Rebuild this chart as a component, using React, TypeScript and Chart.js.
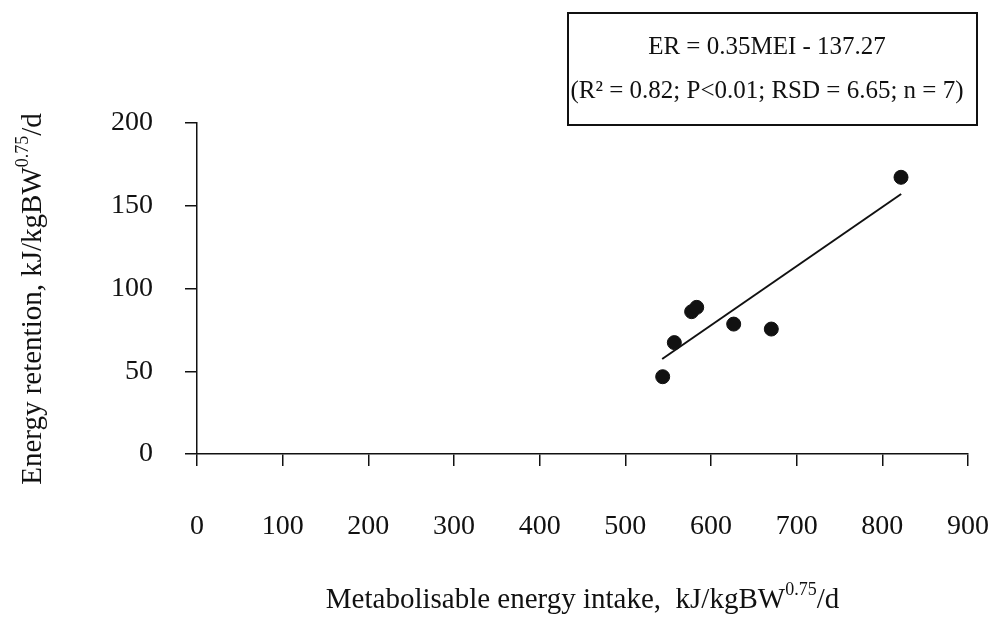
import React, { useEffect, useRef } from "react";
import { Chart, registerables } from "chart.js";

Chart.register(...registerables);

// Data
const meiValues = [543.6, 557.2, 577.4, 583.3, 626.5, 670.4, 821.8];
const erValues = [46.7, 67.3, 86.0, 88.6, 78.5, 75.5, 167.2];
const fitX = [543, 822];
const fitY = [57.4, 157.1];
const xTicks = [0, 100, 200, 300, 400, 500, 600, 700, 800, 900];
const yTicks = [0, 50, 100, 150, 200];
const equationLine1 = "ER = 0.35MEI - 137.27";
const equationLine2 = "(R\u00B2 = 0.82; P<0.01; RSD = 6.65; n = 7)";
const xTitleParts = [
  { text: "Metabolisable energy intake,  kJ/kgBW", sup: false },
  { text: "0.75", sup: true },
  { text: "/d", sup: false },
];
const yTitleParts = [
  { text: "Energy retention, kJ/kgBW", sup: false },
  { text: "0.75", sup: true },
  { text: "/d", sup: false },
];

const FONT = "'Liberation Serif', 'Times New Roman', serif";
const INK = "#111111";

type Part = { text: string; sup: boolean };

function drawRich(ctx: CanvasRenderingContext2D, parts: Part[], cx: number, cy: number, size: number) {
  const supSize = Math.round(size * 0.62);
  let total = 0;
  const widths: number[] = [];
  for (const p of parts) {
    ctx.font = `${p.sup ? supSize : size}px ${FONT}`;
    const w = ctx.measureText(p.text).width;
    widths.push(w);
    total += w;
  }
  let x = cx - total / 2;
  ctx.textAlign = "left";
  ctx.textBaseline = "alphabetic";
  const base = cy + size * 0.33;
  parts.forEach((p, i) => {
    ctx.font = `${p.sup ? supSize : size}px ${FONT}`;
    ctx.fillText(p.text, x, p.sup ? base - size * 0.42 : base);
    x += widths[i];
  });
}

const annotationPlugin = {
  id: "annotations",
  afterDraw(chart: any) {
    const ctx: CanvasRenderingContext2D = chart.ctx;
    const area = chart.chartArea;
    ctx.save();
    ctx.fillStyle = INK;
    ctx.strokeStyle = INK;
    // Equation box
    ctx.lineWidth = 2;
    ctx.strokeRect(568, 13, 409, 112);
    ctx.font = `25px ${FONT}`;
    ctx.textAlign = "center";
    ctx.textBaseline = "middle";
    ctx.fillText(equationLine1, 767, 47);
    ctx.fillText(equationLine2, 767, 91);
    // X axis title
    drawRich(ctx, xTitleParts, (area.left + area.right) / 2, 598, 29);
    // Y axis title
    ctx.translate(31, 299);
    ctx.rotate(-Math.PI / 2);
    drawRich(ctx, yTitleParts, 0, 0, 29);
    ctx.restore();
  },
};

export default function App() {
  const ref = useRef<HTMLCanvasElement | null>(null);

  useEffect(() => {
    if (!ref.current) return;
    const chart = new Chart(ref.current, {
      type: "scatter",
      data: {
        datasets: [
          {
            label: "ER",
            data: meiValues.map((x, i) => ({ x, y: erValues[i] })),
            backgroundColor: INK,
            borderColor: INK,
            pointRadius: 7,
            pointHoverRadius: 7,
            showLine: false,
          },
          {
            label: "Fit",
            data: fitX.map((x, i) => ({ x, y: fitY[i] })),
            borderColor: INK,
            borderWidth: 2,
            pointRadius: 0,
            showLine: true,
            fill: false,
          },
        ],
      },
      options: {
        responsive: false,
        animation: false,
        layout: { padding: { top: 123, right: 23, left: 0, bottom: 0 } },
        plugins: {
          legend: { display: false },
          tooltip: { enabled: false },
          title: { display: false },
        },
        scales: {
          x: {
            type: "linear",
            min: 0,
            max: 900,
            afterBuildTicks: (s: any) => {
              s.ticks = xTicks.map((v) => ({ value: v }));
            },
            afterFit: (s: any) => {
              s.height = 166;
              s.paddingLeft = 0;
              s.paddingRight = 0;
            },
            ticks: {
              color: INK,
              font: { family: FONT, size: 28 },
              padding: 44,
              maxRotation: 0,
              autoSkip: false,
            },
            grid: {
              display: true,
              drawOnChartArea: false,
              drawTicks: true,
              tickLength: 12,
              color: INK,
              lineWidth: 1.5,
            },
            border: { display: true, color: INK, width: 1.5 },
          },
          y: {
            type: "linear",
            min: 0,
            max: 200,
            afterBuildTicks: (s: any) => {
              s.ticks = yTicks.map((v) => ({ value: v }));
            },
            afterFit: (s: any) => {
              s.width = 197;
              s.paddingTop = 0;
              s.paddingBottom = 0;
            },
            ticks: {
              color: INK,
              font: { family: FONT, size: 28 },
              padding: 32,
              autoSkip: false,
            },
            grid: {
              display: true,
              drawOnChartArea: false,
              drawTicks: true,
              tickLength: 12,
              color: INK,
              lineWidth: 1.5,
            },
            border: { display: true, color: INK, width: 1.5 },
          },
        },
      },
      plugins: [annotationPlugin],
    } as any);
    return () => chart.destroy();
  }, []);

  return (
    <div style={{ position: "fixed", left: 0, top: 0, width: 991, height: 620, background: "#fff" }}>
      <canvas ref={ref} width={991} height={620} style={{ width: 991, height: 620, display: "block" }} />
    </div>
  );
}
